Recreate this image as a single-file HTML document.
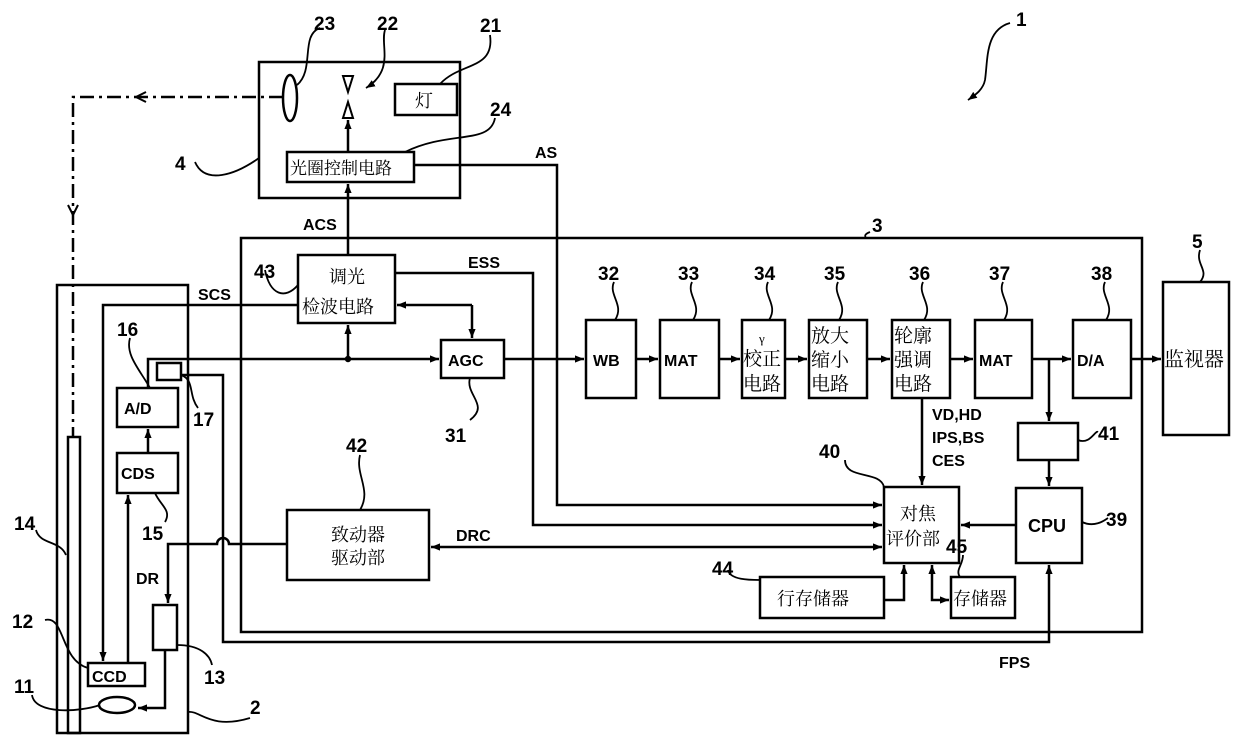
<!DOCTYPE html>
<html><head><meta charset="utf-8"><style>
html,body{margin:0;padding:0;background:#fff}
svg{display:block}
.n{font-family:"Liberation Sans",sans-serif;font-weight:bold;font-size:19px;fill:#000}
.s{font-family:"Liberation Sans",sans-serif;font-weight:bold;font-size:16px;fill:#000}
.c{font-family:"Liberation Serif","Noto Serif CJK SC","Noto Sans CJK SC",serif;font-size:18px;fill:#000}
</style></head><body>
<svg width="1240" height="753" viewBox="0 0 1240 753" xmlns="http://www.w3.org/2000/svg">
<defs>
<marker id="a" viewBox="0 0 10 10" refX="10" refY="5" markerWidth="9" markerHeight="9" markerUnits="userSpaceOnUse" orient="auto-start-reverse"><path d="M0,1 L10,5 L0,9 Z" fill="#000"/></marker>
</defs>
<g fill="none" stroke="#000" stroke-width="2.5">
<!-- box 4 -->
<rect x="259" y="62" width="201" height="136"/>
<ellipse cx="290" cy="98" rx="7" ry="23"/>
<path d="M343,76 L353,76 L348,92 Z" stroke-width="2"/>
<path d="M343,118 L353,118 L348,102 Z" stroke-width="2"/>
<rect x="395" y="84" width="62" height="31"/>
<rect x="287" y="152" width="127" height="30"/>
<line x1="348" y1="152" x2="348" y2="120" marker-end="url(#a)"/>
<!-- dash-dot -->
<path d="M283,97 L73,97 L73,437" stroke-dasharray="14,5,3,5"/>
<path d="M146,92 L136,97 L146,102" stroke-width="2"/>
<path d="M68,205 L73,215 L78,205" stroke-width="2"/>
<!-- ACS -->
<line x1="348" y1="255" x2="348" y2="184" marker-end="url(#a)"/>
<!-- box 3 -->
<rect x="241" y="238" width="901" height="394"/>
<!-- 43 -->
<rect x="298" y="255" width="97" height="68"/>
<!-- AS -->
<path d="M414,165 L557,165 L557,505 L882,505" marker-end="url(#a)"/>
<!-- ESS -->
<path d="M395,273 L533,273 L533,525 L882,525" marker-end="url(#a)"/>
<!-- 43 - AGC -->
<path d="M472,305 L472,338" marker-end="url(#a)"/>
<path d="M472,305 L397,305" marker-end="url(#a)"/>
<!-- SCS -->
<path d="M298,305 L103,305 L103,661" marker-end="url(#a)"/>
<!-- box 2 -->
<rect x="57" y="285" width="131" height="448"/>
<rect x="68" y="437" width="12" height="296"/>
<!-- main signal -->
<path d="M148,388 L148,359 L439,359" marker-end="url(#a)"/>
<line x1="348" y1="359" x2="348" y2="325" marker-end="url(#a)"/>
<circle cx="348" cy="359" r="2" fill="#000"/>
<rect x="441" y="340" width="63" height="38"/>
<line x1="504" y1="359" x2="584" y2="359" marker-end="url(#a)"/>
<!-- processing boxes -->
<rect x="586" y="320" width="50" height="78"/>
<line x1="636" y1="359" x2="658" y2="359" marker-end="url(#a)"/>
<rect x="660" y="320" width="59" height="78"/>
<line x1="719" y1="359" x2="740" y2="359" marker-end="url(#a)"/>
<rect x="742" y="320" width="43" height="78"/>
<line x1="785" y1="359" x2="807" y2="359" marker-end="url(#a)"/>
<rect x="809" y="320" width="58" height="78"/>
<line x1="867" y1="359" x2="890" y2="359" marker-end="url(#a)"/>
<rect x="892" y="320" width="58" height="78"/>
<line x1="950" y1="359" x2="973" y2="359" marker-end="url(#a)"/>
<rect x="975" y="320" width="57" height="78"/>
<line x1="1032" y1="359" x2="1071" y2="359" marker-end="url(#a)"/>
<rect x="1073" y="320" width="58" height="78"/>
<line x1="1131" y1="359" x2="1161" y2="359" marker-end="url(#a)"/>
<rect x="1163" y="282" width="66" height="153"/>
<!-- 41 & CPU -->
<line x1="1049" y1="359" x2="1049" y2="421" marker-end="url(#a)"/>
<rect x="1018" y="423" width="60" height="37"/>
<line x1="1049" y1="460" x2="1049" y2="486" marker-end="url(#a)"/>
<rect x="1016" y="488" width="66" height="75"/>
<line x1="1016" y1="525" x2="961" y2="525" marker-end="url(#a)"/>
<!-- 40 -->
<rect x="884" y="487" width="75" height="76"/>
<line x1="922" y1="398" x2="922" y2="485" marker-end="url(#a)"/>
<!-- 44 45 -->
<rect x="760" y="577" width="124" height="41"/>
<rect x="951" y="577" width="64" height="41"/>
<path d="M884,600 L904,600 L904,565" marker-end="url(#a)"/>
<path d="M932,565 L932,600 L949,600" marker-end="url(#a)" marker-start="url(#a)"/>
<!-- 42 -->
<rect x="287" y="510" width="142" height="70"/>
<line x1="882" y1="547" x2="431" y2="547" marker-end="url(#a)" marker-start="url(#a)"/>
<!-- DR -->
<path d="M287,544 L229,544 A6,6 0 0 0 217,544 L168,544 L168,603" marker-end="url(#a)"/>
<rect x="153" y="605" width="24" height="45"/>
<path d="M165,650 L165,708 L138,708" marker-end="url(#a)"/>
<ellipse cx="117" cy="705" rx="18" ry="8"/>
<!-- 17 line / FPS -->
<rect x="157" y="363" width="24" height="17"/>
<path d="M181,375 L223,375 L223,642 L1049,642 L1049,565" marker-end="url(#a)"/>
<!-- camera internals -->
<rect x="88" y="663" width="57" height="23"/>
<rect x="117" y="453" width="61" height="40"/>
<rect x="117" y="388" width="61" height="39"/>
<line x1="148" y1="453" x2="148" y2="429" marker-end="url(#a)"/>
<line x1="128" y1="663" x2="128" y2="495" marker-end="url(#a)"/>
<!-- leaders -->
<g stroke-width="1.8">
<path d="M1010,23 C985,30 988,60 985,80 C983,90 975,95 968,100" marker-end="url(#a)"/>
<path d="M320,28 C300,35 315,70 297,85"/>
<path d="M385,30 C380,45 395,70 366,88" marker-end="url(#a)"/>
<path d="M490,35 C495,70 460,62 440,84"/>
<path d="M495,118 C490,145 450,130 405,152"/>
<path d="M195,162 C205,185 235,175 259,158"/>
<path d="M265,270 C270,295 285,300 298,285"/>
<path d="M870,232 C860,236 870,238 862,238"/>
<path d="M130,338 C125,355 140,370 150,388"/>
<path d="M181,375 C195,380 188,395 198,408"/>
<path d="M614,282 C608,295 625,305 615,320"/>
<path d="M692,282 C686,295 703,305 693,320"/>
<path d="M768,282 C762,295 779,305 769,320"/>
<path d="M838,282 C832,295 849,305 839,320"/>
<path d="M923,282 C917,295 934,305 924,320"/>
<path d="M1003,282 C997,295 1014,305 1004,320"/>
<path d="M1105,282 C1099,295 1116,305 1106,320"/>
<path d="M1200,250 C1195,265 1210,270 1200,282"/>
<path d="M470,378 C465,395 490,405 470,420"/>
<path d="M1078,440 C1090,445 1095,430 1098,432"/>
<path d="M1082,522 C1095,528 1105,520 1108,518"/>
<path d="M845,460 C845,480 880,470 884,487"/>
<path d="M360,455 C355,475 372,490 360,510"/>
<path d="M728,570 C730,580 750,580 760,580"/>
<path d="M963,555 C963,565 955,570 960,577"/>
<path d="M155,493 C160,505 172,510 165,522"/>
<path d="M36,530 C40,545 60,540 66,555"/>
<path d="M45,620 C65,615 60,660 88,668"/>
<path d="M32,695 C35,715 80,712 100,705"/>
<path d="M177,645 C200,645 210,655 212,665"/>
<path d="M188,712 C200,710 210,730 250,718"/>
</g>
</g>
<!-- texts -->
<text x="1016" y="26" class="n">1</text>
<text x="314" y="30" class="n">23</text>
<text x="377" y="30" class="n">22</text>
<text x="480" y="32" class="n">21</text>
<text x="490" y="116" class="n">24</text>
<text x="175" y="170" class="n">4</text>
<text x="872" y="232" class="n">3</text>
<text x="1192" y="248" class="n">5</text>
<text x="254" y="278" class="n">43</text>
<text x="117" y="336" class="n">16</text>
<text x="193" y="426" class="n">17</text>
<text x="445" y="442" class="n">31</text>
<text x="598" y="280" class="n">32</text>
<text x="678" y="280" class="n">33</text>
<text x="754" y="280" class="n">34</text>
<text x="824" y="280" class="n">35</text>
<text x="909" y="280" class="n">36</text>
<text x="989" y="280" class="n">37</text>
<text x="1091" y="280" class="n">38</text>
<text x="1098" y="440" class="n">41</text>
<text x="1106" y="526" class="n">39</text>
<text x="819" y="458" class="n">40</text>
<text x="346" y="452" class="n">42</text>
<text x="712" y="575" class="n">44</text>
<text x="946" y="553" class="n">45</text>
<text x="142" y="540" class="n">15</text>
<text x="14" y="530" class="n">14</text>
<text x="12" y="628" class="n">12</text>
<text x="14" y="693" class="n">11</text>
<text x="204" y="684" class="n">13</text>
<text x="250" y="714" class="n">2</text>
<text x="535" y="158" class="s">AS</text>
<text x="303" y="230" class="s">ACS</text>
<text x="468" y="268" class="s">ESS</text>
<text x="198" y="300" class="s">SCS</text>
<text x="456" y="541" class="s">DRC</text>
<text x="136" y="584" class="s">DR</text>
<text x="999" y="668" class="s">FPS</text>
<text x="932" y="420" class="s">VD,HD</text>
<text x="932" y="443" class="s">IPS,BS</text>
<text x="932" y="466" class="s">CES</text>
<text x="92" y="682" class="s">CCD</text>
<text x="121" y="479" class="s">CDS</text>
<text x="124" y="414" class="s">A/D</text>
<text x="448" y="366" class="s">AGC</text>
<text x="593" y="366" class="s">WB</text>
<text x="664" y="366" class="s">MAT</text>
<text x="979" y="366" class="s">MAT</text>
<text x="1077" y="366" class="s">D/A</text>
<text x="1028" y="532" class="s" style="font-size:18px">CPU</text>
<text x="415" y="107" class="c">灯</text>
<text x="290" y="174" class="c" style="font-size:17px">光圈控制电路</text>
<text x="329" y="283" class="c">调光</text>
<text x="302" y="313" class="c">检波电路</text>
<text x="759" y="343" class="c" style="font-size:13px">γ</text>
<text x="743" y="365" class="c" style="font-size:19px">校正</text>
<text x="743" y="390" class="c" style="font-size:19px">电路</text>
<text x="811" y="342" class="c" style="font-size:19px">放大</text>
<text x="811" y="366" class="c" style="font-size:19px">缩小</text>
<text x="811" y="390" class="c" style="font-size:19px">电路</text>
<text x="894" y="342" class="c" style="font-size:19px">轮廓</text>
<text x="894" y="366" class="c" style="font-size:19px">强调</text>
<text x="894" y="390" class="c" style="font-size:19px">电路</text>
<text x="1164" y="366" class="c" style="font-size:20px">监视器</text>
<text x="900" y="520" class="c">对焦</text>
<text x="886" y="545" class="c">评价部</text>
<text x="331" y="541" class="c">致动器</text>
<text x="331" y="564" class="c">驱动部</text>
<text x="777" y="605" class="c">行存储器</text>
<text x="953" y="605" class="c">存储器</text>
</svg>
</body></html>
